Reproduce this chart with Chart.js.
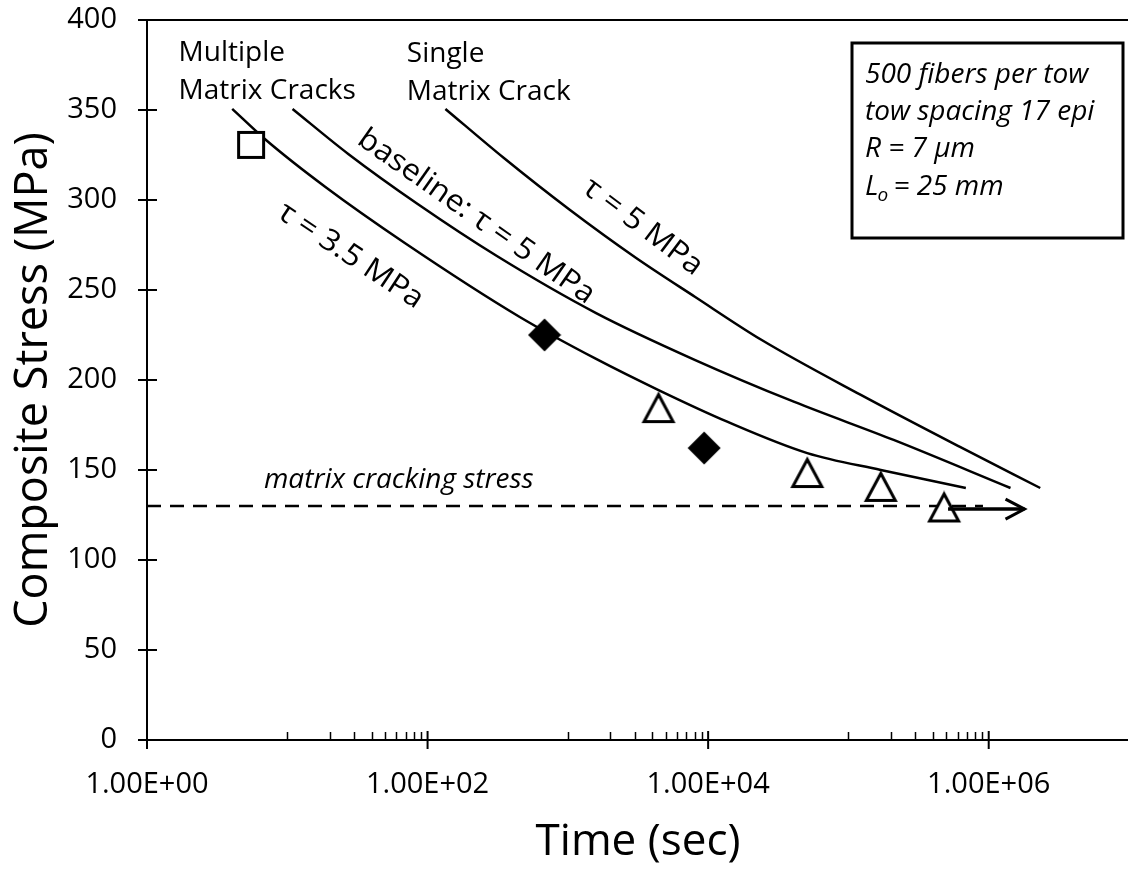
<!DOCTYPE html>
<html>
<head>
<meta charset="utf-8">
<title>Composite stress vs time</title>
<script src="https://cdn.jsdelivr.net/npm/chart.js@4.4.1/dist/chart.umd.min.js"></script>
<style>
  html, body { margin:0; padding:0; background:#fff; }
  #wrap { width:1128px; height:869px; overflow:hidden; }
  canvas { display:block; }
</style>
</head>
<body>
<div id="wrap"><canvas id="chart" width="1140" height="869"></canvas></div>
<script>
const xTickValues = [1, 1e2, 1e4, 1e6];
const xTickLabels = ['1.00E+00', '1.00E+02', '1.00E+04', '1.00E+06'];
const xMinorDecades = [10, 1e3, 1e5];

// tau = 3.5 MPa (multiple matrix cracks)
const tau35Time   = [4.05, 7.05, 18.7, 68.8, 454, 1590, 4430, 13800, 50900, 170000, 687000];
const tau35Stress = [350.6, 333.3, 307.2, 276.1, 235, 211.7, 194.4, 176.7, 159.4, 150, 140];
// baseline tau = 5 MPa (multiple matrix cracks)
const baseTime   = [10.9, 27.2, 85, 312, 1590, 8090, 41200, 210000, 1430000];
const baseStress = [350.6, 325.6, 297.8, 268.9, 237.2, 211.1, 187.8, 166.7, 140];
// tau = 5 MPa (single matrix crack)
const singleTime   = [134, 350, 1025, 3050, 8090, 24100, 122600, 624000, 2330000];
const singleStress = [350.6, 323.3, 294.7, 267.9, 246.1, 222.2, 191.7, 162.8, 140];

// test data
const squareTime = [5.52];
const squareStress = [330.6];
const diamondTime = [682, 9370];
const diamondStress = [225, 162.2];
const triangleTime = [4430, 50900, 170000, 481000];
const triangleStress = [184.4, 148.3, 140.6, 129.2];

const crackTime = [1, 910000];
const crackStress = 130;
const arrowTime = [513000, 1800000];
const arrowStress = 128.3;

const FONT = "'Open Sans', sans-serif";

function pts(xs, ys){
  return xs.map((v, i) => ({ x: v, y: Array.isArray(ys) ? ys[i] : ys }));
}

function markerCanvas(w, h, draw){
  const c = document.createElement('canvas');
  c.width = w; c.height = h;
  const g = c.getContext('2d');
  draw(g);
  return c;
}

const squareImg = markerCanvas(32, 32, g => {
  g.fillStyle = '#fff'; g.strokeStyle = '#000'; g.lineWidth = 3;
  g.fillRect(3.5, 3.5, 25, 25); g.strokeRect(3.5, 3.5, 25, 25);
});
const diamondImg = markerCanvas(34, 34, g => {
  g.fillStyle = '#000';
  g.beginPath(); g.moveTo(17, 0.5); g.lineTo(33.5, 17); g.lineTo(17, 33.5); g.lineTo(0.5, 17); g.closePath(); g.fill();
});
const triangleImg = markerCanvas(36, 34, g => {
  g.fillStyle = '#fff'; g.strokeStyle = '#000'; g.lineWidth = 3; g.lineJoin = 'miter';
  g.beginPath(); g.moveTo(18, 3.5); g.lineTo(3.5, 30.5); g.lineTo(32.5, 30.5); g.closePath(); g.fill(); g.stroke();
});

const plainNotes = [
  { text: 'Multiple', t: 1.68, s: 377.2 },
  { text: 'Matrix Cracks', t: 1.68, s: 356.1 },
  { text: 'Single', t: 71.1, s: 376.7 },
  { text: 'Matrix Crack', t: 71.1, s: 355.6 }
];
const rotatedNotes = [
  { text: 'baseline: \u03c4 = 5 MPa', t: 222, s: 290.6, angle: 35 },
  { text: '\u03c4 = 3.5 MPa', t: 28.2, s: 269, angle: 33.5 },
  { text: '\u03c4 = 5 MPa', t: 3420, s: 285, angle: 37 }
];

const frame = {
  id: 'frame',
  beforeDatasetsDraw(chart){
    const { ctx, chartArea: a, scales: { x, y } } = chart;
    ctx.save();
    ctx.strokeStyle = '#000';
    ctx.lineWidth = 2;
    ctx.beginPath();
    ctx.moveTo(a.left, a.top); ctx.lineTo(a.right, a.top);
    ctx.moveTo(a.left, a.top); ctx.lineTo(a.left, a.bottom);
    ctx.moveTo(a.left, a.bottom); ctx.lineTo(a.right, a.bottom);
    y.ticks.forEach(t => {
      const py = y.getPixelForValue(t.value);
      ctx.moveTo(a.left - 9, py); ctx.lineTo(a.left + 10, py);
    });
    xTickValues.forEach(v => {
      const px = x.getPixelForValue(v);
      ctx.moveTo(px, a.bottom - 9); ctx.lineTo(px, a.bottom + 9);
    });
    ctx.stroke();
    ctx.lineWidth = 1.5;
    ctx.beginPath();
    xMinorDecades.forEach(d => {
      for(let k = 1; k <= 9; k++){
        const px = Math.round(x.getPixelForValue(d * k)) + 0.5;
        ctx.moveTo(px, a.bottom); ctx.lineTo(px, a.bottom - 8);
      }
    });
    ctx.stroke();
    ctx.restore();
  },
  afterDraw(chart){
    const { ctx, scales: { x, y } } = chart;
    ctx.save();
    ctx.fillStyle = '#000';
    ctx.strokeStyle = '#000';

    // arrow head
    const tipX = x.getPixelForValue(arrowTime[1]);
    const tipY = y.getPixelForValue(arrowStress);
    ctx.lineWidth = 3;
    ctx.beginPath();
    ctx.moveTo(tipX - 19, tipY - 10); ctx.lineTo(tipX, tipY); ctx.lineTo(tipX - 19, tipY + 10);
    ctx.stroke();

    ctx.font = '28px ' + FONT;
    ctx.textAlign = 'left';
    ctx.textBaseline = 'alphabetic';
    plainNotes.forEach(n => ctx.fillText(n.text, x.getPixelForValue(n.t), y.getPixelForValue(n.s)));

    ctx.font = '30px ' + FONT;
    ctx.textAlign = 'center';
    ctx.textBaseline = 'middle';
    rotatedNotes.forEach(n => {
      ctx.save();
      ctx.translate(x.getPixelForValue(n.t), y.getPixelForValue(n.s));
      ctx.rotate(n.angle * Math.PI / 180);
      ctx.scale(1.06, 1);
      ctx.fillText(n.text, 0, 0);
      ctx.restore();
    });

    ctx.font = 'italic 28px ' + FONT;
    ctx.textAlign = 'left';
    ctx.textBaseline = 'alphabetic';
    ctx.fillText('matrix cracking stress', x.getPixelForValue(6.82), y.getPixelForValue(140));

    // parameter box
    ctx.lineWidth = 3;
    ctx.strokeRect(852, 43, 271, 195);
    ctx.fillText('500 fibers per tow', 865, 83);
    ctx.fillText('tow spacing 17 epi', 865, 120);
    ctx.fillText('R = 7 \u03bcm', 865, 157);
    ctx.fillText('L', 865, 195);
    const wL = ctx.measureText('L').width;
    ctx.font = 'italic 19px ' + FONT;
    ctx.fillText('o', 865 + wL - 1, 201);
    const wo = ctx.measureText('o').width;
    ctx.font = 'italic 28px ' + FONT;
    ctx.fillText(' = 25 mm', 865 + wL + wo - 3, 195);
    ctx.restore();
  }
};

function draw(){
  Chart.defaults.font.family = FONT;
  Chart.defaults.color = '#000';
  const line = (data) => ({
    data, showLine: true, borderColor: '#000', borderWidth: 2.5,
    pointRadius: 0, cubicInterpolationMode: 'monotone', fill: false
  });
  new Chart(document.getElementById('chart'), {
    type: 'scatter',
    data: {
      datasets: [
        { label: 'arrow', data: pts(arrowTime, arrowStress), showLine: true, borderColor: '#000', borderWidth: 3.5, pointRadius: 0 },
        { label: 'triangles', data: pts(triangleTime, triangleStress), pointStyle: triangleImg, pointRadius: 10 },
        { label: 'diamonds', data: pts(diamondTime, diamondStress), pointStyle: diamondImg, pointRadius: 10 },
        { label: 'square', data: pts(squareTime, squareStress), pointStyle: squareImg, pointRadius: 10 },
        { label: 'matrix cracking stress', data: pts(crackTime, crackStress), showLine: true, borderColor: '#000', borderWidth: 2.5, borderDash: [14, 9], pointRadius: 0 },
        Object.assign(line(pts(tau35Time, tau35Stress)), { label: 'tau 3.5' }),
        Object.assign(line(pts(baseTime, baseStress)), { label: 'baseline tau 5' }),
        Object.assign(line(pts(singleTime, singleStress)), { label: 'single tau 5' })
      ]
    },
    options: {
      responsive: false,
      animation: false,
      layout: { padding: { left: 0, right: 2.5, top: 20, bottom: 0 } },
      plugins: { legend: { display: false }, tooltip: { enabled: false } },
      scales: {
        x: {
          type: 'logarithmic', min: 1, max: 1e7,
          afterBuildTicks: s => { s.ticks = xTickValues.map(v => ({ value: v })); },
          afterFit: s => { s.height = 129; s.paddingLeft = 0; s.paddingRight = 0; },
          grid: { display: false, drawTicks: false },
          border: { display: false },
          ticks: { autoSkip: false, maxRotation: 0, padding: 27, font: { size: 29 }, callback: (v, i) => xTickLabels[i] },
          title: { display: true, text: 'Time (sec)', font: { size: 44 }, padding: { top: 0, bottom: 0 } }
        },
        y: {
          min: 0, max: 400,
          afterFit: s => { s.width = 147; s.paddingTop = 0; s.paddingBottom = 0; },
          grid: { display: false, drawTicks: false },
          border: { display: false },
          ticks: { stepSize: 50, padding: 30, font: { size: 29 } },
          title: { display: true, text: 'Composite Stress (MPa)', font: { size: 45 }, padding: { top: 7, bottom: 0 } }
        }
      }
    },
    plugins: [frame]
  });
}

Promise.all([
  document.fonts.load('29px "Open Sans"'),
  document.fonts.load('italic 28px "Open Sans"')
]).then(draw, draw);
</script>
</body>
</html>
